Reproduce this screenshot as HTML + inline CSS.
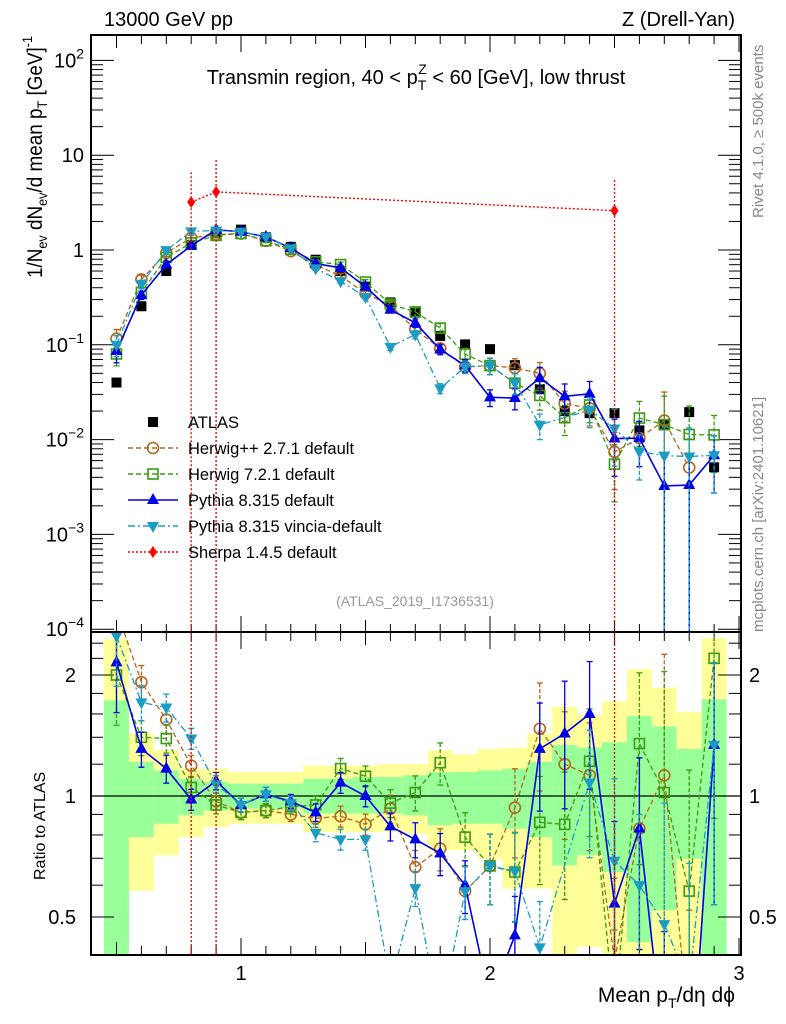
<!DOCTYPE html>
<html><head><meta charset="utf-8">
<style>
html,body{margin:0;padding:0;background:#fff;width:786px;height:1024px;overflow:hidden;}
svg{display:block;font-family:"Liberation Sans",Arial,sans-serif;}
</style></head>
<body>
<svg id="chart" width="786" height="1024" viewBox="0 0 786 1024" xmlns="http://www.w3.org/2000/svg">
<defs>
<clipPath id="clipMain"><rect x="91" y="35" width="650" height="597"/></clipPath>
<clipPath id="clipRatio"><rect x="91" y="632" width="650" height="323"/></clipPath>
</defs>
<g id="bands" clip-path="url(#clipRatio)"></g>
<g id="ticks"></g>
<line x1="91" x2="741" y1="796" y2="796" stroke="#000" stroke-width="1.3"/>
<g id="mainMarks" clip-path="url(#clipMain)"></g>
<g id="ratioMarks" clip-path="url(#clipRatio)"></g>
<rect x="91" y="35" width="650" height="597" fill="none" stroke="#000" stroke-width="2"/>
<rect x="91" y="632" width="650" height="323" fill="none" stroke="#000" stroke-width="2"/>
<g id="labels" font-size="20"></g>

<text x="104" y="26" font-size="20">13000 GeV pp</text>
<text x="735" y="26" font-size="20" text-anchor="end">Z (Drell-Yan)</text>
<text x="416" y="84" font-size="20" text-anchor="middle">Transmin region, 40 &lt; p<tspan font-size="14" dy="6">T</tspan><tspan font-size="14" dx="-8" dy="-16">Z</tspan><tspan dy="10"> &lt; 60 [GeV], low thrust</tspan></text>
<text x="415" y="606" font-size="14" fill="#999" text-anchor="middle">(ATLAS_2019_I1736531)</text>
<text transform="translate(42,278) rotate(-90)" font-size="21" textLength="242" lengthAdjust="spacingAndGlyphs">1/N<tspan font-size="14" dy="5">ev</tspan><tspan dy="-5"> dN</tspan><tspan font-size="14" dy="5">ev</tspan><tspan dy="-5">/d mean p</tspan><tspan font-size="14" dy="5">T</tspan><tspan dy="-5"> [GeV]</tspan><tspan font-size="14" dy="-10">-1</tspan></text>
<text transform="translate(45,880) rotate(-90)" font-size="16">Ratio to ATLAS</text>
<text x="735" y="1002" font-size="21" text-anchor="end">Mean p<tspan font-size="14" dy="6">T</tspan><tspan dy="-6">/dη dϕ</tspan></text>
<text transform="translate(763,218) rotate(-90)" font-size="15" fill="#888">Rivet 4.1.0, ≥ 500k events</text>
<text transform="translate(763,632) rotate(-90)" font-size="15" fill="#888">mcplots.cern.ch [arXiv:2401.10621]</text>
<g id="legend" font-size="16.5"></g>
</svg>
<script>
// ---- data ----
const xCenters = [0.5,0.6,0.7,0.8,0.9,1.0,1.1,1.2,1.3,1.4,1.5,1.6,1.7,1.8,1.9,2.0,2.1,2.2,2.3,2.4,2.5,2.6,2.7,2.8,2.9];
const atlasVals = [0.040,0.255,0.60,1.13,1.50,1.64,1.36,1.08,0.79,0.60,0.41,0.28,0.218,0.124,0.101,0.090,0.061,0.034,0.020,0.019,0.019,0.0125,0.0141,0.0195,0.0051];
const herwigPPRatio = [2.9,1.92,1.55,1.19,0.97,0.91,0.92,0.90,0.88,0.89,0.85,0.93,0.665,0.74,0.58,0.67,0.935,1.47,1.20,1.126,0.39,0.83,1.126,0.26,null];
const herwig7Ratio = [2.0,1.40,1.39,1.05,0.95,0.91,0.92,0.94,0.95,1.17,1.12,0.96,1.02,1.21,0.79,0.67,0.647,0.86,0.85,1.22,0.29,1.35,1.02,0.58,2.2];
const pythiaRatio = [2.15,1.31,1.17,0.98,1.09,0.95,1.01,0.97,0.91,1.08,1.0,0.84,0.78,0.72,0.60,0.31,0.45,1.31,1.43,1.60,0.54,0.83,0.23,0.17,1.34];
const vinciaRatio = [2.5,1.71,1.66,1.39,1.07,0.95,1.01,0.96,0.81,0.78,0.78,0.34,0.59,0.28,0.58,0.67,0.65,0.42,null,1.08,0.69,0.6,0.48,0.34,1.34];
const mcRelErr = [0.25,0.1,0.08,0.06,0.05,0.04,0.04,0.04,0.05,0.06,0.06,0.08,0.1,0.12,0.15,0.2,0.25,0.3,0.35,0.35,0.6,0.5,1.0,1.0,0.6];
const sherpaVals = [null,null,null,3.2,4.1,null,null,null,null,null,null,null,null,null,null,null,null,null,null,null,2.6,null,null,null,null];
const sherpaUp = [null,null,null,6.6,8.9,null,null,null,null,null,null,null,null,null,null,null,null,null,null,null,5.5,null,null,null,null];
const greenLo = [0.38,0.79,0.853,0.895,0.921,0.93,0.93,0.93,0.904,0.904,0.904,0.904,0.895,0.846,0.853,0.853,0.829,0.79,0.672,0.712,0.647,0.433,0.52,0.698,0.38];
const greenHi = [1.73,1.215,1.158,1.104,1.084,1.073,1.073,1.073,1.104,1.104,1.115,1.115,1.126,1.147,1.147,1.158,1.17,1.215,1.34,1.32,1.36,1.58,1.49,1.31,1.74];
const yellowLo = [0.38,0.582,0.712,0.79,0.837,0.853,0.853,0.853,0.814,0.814,0.814,0.814,0.806,0.733,0.733,0.698,0.588,0.588,0.38,0.421,0.38,0.38,0.38,0.38,0.38];
const yellowHi = [2.46,1.43,1.30,1.17,1.17,1.147,1.147,1.147,1.19,1.19,1.19,1.20,1.20,1.30,1.27,1.31,1.32,1.43,1.67,1.59,1.72,2.07,1.86,1.62,2.47];
const xTickLabels = [1,2,3];
const yMainTickExp = [-4,-3,-2,-1,0,1,2];
const yRatioTickLabels = [0.5,1,2];
const binWidth = 0.1;

// ---- axes ----
const X = v => 241 + (v - 1) * 249;
const YM = v => 250 - 94.8 * Math.log10(v);
const YR = r => 796 - 121 * Math.log2(r);
const NS = "http://www.w3.org/2000/svg";
function mk(tag, attrs, parent){ const e=document.createElementNS(NS,tag); for(const k in attrs) e.setAttribute(k,attrs[k]); parent.appendChild(e); return e; }
const clampR = y => Math.max(628, Math.min(958, y));

// bands
const bands = document.getElementById('bands');
xCenters.forEach((x,i)=>{
  const x0 = X(x-binWidth/2), x1 = Math.min(741, X(x+binWidth/2));
  const yt = clampR(YR(yellowHi[i])), yb = clampR(YR(yellowLo[i]));
  const y = mk('rect',{x:x0,y:yt,width:x1-x0,height:yb-yt,fill:'#ffff99'},bands);
  
  
  const gt = clampR(YR(greenHi[i])), gb = clampR(YR(greenLo[i]));
  const g = mk('rect',{x:x0,y:gt,width:x1-x0,height:gb-gt,fill:'#99ff99'},bands);
  
  
});

// ticks
const ticks = document.getElementById('ticks');
function tk(x1,y1,x2,y2){ mk('line',{x1,y1,x2,y2,stroke:'#000','stroke-width':1},ticks); }
for(let k=4;k<=30;k++){ const v=k/10, x=X(v); if(x<92||x>740) continue;
  const major = (k%5===0), L = (k%10===0)?16:(major?12:8);
  tk(x,36,x,36+L); tk(x,632,x,632-L); tk(x,633,x,633+L); tk(x,954,x,954-L);
}
for(let e=-4;e<=2;e++){ for(let m=1;m<10;m++){ const v=m*Math.pow(10,e), y=YM(v); if(y<36||y>631) continue;
  const L = m===1?22:11; tk(92,y,92+L,y); tk(740,y,740-L,y); } }
[0.4,0.5,0.6,0.7,0.8,0.9,1,1.2,1.4,1.6,1.8,2,2.2,2.4].forEach(r=>{ const y=YR(r); if(y<633||y>954) return;
  const L=(r===0.5||r===1||r===2)?22:11; tk(92,y,92+L,y); tk(740,y,740-L,y); });

// tick labels
const labels = document.getElementById('labels');
xTickLabels.forEach(v=>{ const t=mk('text',{x:X(v),y:980,'text-anchor':'middle'},labels); t.textContent=v;
  
   });
yMainTickExp.forEach(e=>{ const y=YM(Math.pow(10,e))+7; const t=mk('text',{x:84,y:y,'text-anchor':'end'},labels);
  
  
  if(e===0) t.textContent='1'; else if(e===1) t.textContent='10';
  else { t.textContent='10'; const s=mk('tspan',{'font-size':'14',dy:'-9'},t); s.textContent=String(e).replace('-','−'); }
});
yRatioTickLabels.forEach(r=>{ const y=YR(r)+7;
  const a=mk('text',{x:76,y:y,'text-anchor':'end'},labels); a.textContent=r;
  
  
  const b=mk('text',{x:749,y:y},labels); b.textContent=r;
  
   });

// markers
function marker(g,type,x,y,color){
  let e;
  if(type==='sq') e=mk('rect',{x:x-5,y:y-5,width:10,height:10,fill:color},g);
  else if(type==='osq') e=mk('rect',{x:x-5,y:y-5,width:10,height:10,fill:'none',stroke:color,'stroke-width':1.6},g);
  else if(type==='circ') e=mk('circle',{cx:x,cy:y,r:5.5,fill:'none',stroke:color,'stroke-width':1.6},g);
  else if(type==='up') e=mk('path',{d:`M${x},${y-7}L${x+6},${y+4}L${x-6},${y+4}Z`,fill:color},g);
  else if(type==='down') e=mk('path',{d:`M${x},${y+7}L${x+6},${y-4}L${x-6},${y-4}Z`,fill:color},g);
  else if(type==='dia') e=mk('path',{d:`M${x},${y-6}L${x+4},${y}L${x},${y+6}L${x-4},${y}Z`,fill:color},g);
  return e;
}
const series = [
  {name:'herwigpp',ratio:herwigPPRatio,color:'#b5651d',dash:'5,3',m:'circ'},
  {name:'herwig7',ratio:herwig7Ratio,color:'#3a9a12',dash:'5,3',m:'osq'},
  {name:'pythia',ratio:pythiaRatio,color:'#0000e6',dash:'',m:'up'},
  {name:'vincia',ratio:vinciaRatio,color:'#1b9cc4',dash:'7,3,2,3',m:'down'}
];
const mainG=document.getElementById('mainMarks'), ratioG=document.getElementById('ratioMarks');
function drawSeries(parent, vals, errs, Yf, s, floorY){
  const g=mk('g',{},parent);
  
  
  let pts=[];
  vals.forEach((v,i)=>{ if(v==null) return; pts.push([X(xCenters[i]),Yf(v)]); });
  mk('polyline',{points:pts.map(p=>p.join(',')).join(' '),fill:'none',stroke:s.color,'stroke-width':s.m==='up'?1.6:1.3,'stroke-dasharray':s.dash},g);
  vals.forEach((v,i)=>{ if(v==null) return; const x=X(xCenters[i]);
    const e=errs[i]; const lo = v*(1-e) > 0 ? Math.min(floorY,Yf(v*(1-e))) : floorY; const hi=Yf(v*(1+e));
    mk('line',{x1:x,x2:x,y1:hi,y2:lo,stroke:s.color,'stroke-width':1.3,'stroke-dasharray':s.dash?'4,2':''},g);
    mk('line',{x1:x-3,x2:x+3,y1:hi,y2:hi,stroke:s.color,'stroke-width':1.3},g);
    mk('line',{x1:x-3,x2:x+3,y1:lo,y2:lo,stroke:s.color,'stroke-width':1.3},g);
  });
  vals.forEach((v,i)=>{ if(v==null) return; marker(g,s.m,X(xCenters[i]),Yf(v),s.color); });
}
const dg=mk('g',{},mainG);


series.forEach(s=>{
  const mainVals = s.ratio.map((r,i)=> r==null?null: r*atlasVals[i]);
  drawSeries(mainG, mainVals, mcRelErr, YM, s, 636);
  drawSeries(ratioG, s.ratio, mcRelErr, YR, s, 958);
});
atlasVals.forEach((v,i)=>{ marker(dg,'sq',X(xCenters[i]),YM(v),'#000'); });
// Sherpa
['main','ratio'].forEach(which=>{
  const parent = which==='main'?mainG:ratioG;
  const g=mk('g',{},parent);
  
  
  const pts=[];
  sherpaVals.forEach((v,i)=>{ if(v==null) return; const x=X(xCenters[i]);
    const yv = which==='main'?YM(v):YR(v/atlasVals[i]);
    const yu = which==='main'?YM(sherpaUp[i]):YR(sherpaUp[i]/atlasVals[i]);
    pts.push([x,yv]);
    const bottom = which==='main'?636:958;
    mk('line',{x1:x,x2:x,y1:Math.max(yu, which==='main'?30:628),y2:bottom,stroke:'#ff0000','stroke-width':1.4,'stroke-dasharray':'2,2'},g);
  });
  mk('polyline',{points:pts.map(p=>p.join(',')).join(' '),fill:'none',stroke:'#ff0000','stroke-width':1.4,'stroke-dasharray':'2,2'},g);
  pts.forEach(p=>marker(g,'dia',p[0],p[1],'#ff0000'));
});

// legend
const lg=document.getElementById('legend');
const legendItems=[
  {t:'ATLAS',c:'#000',m:'sq',dash:null},
  {t:'Herwig++ 2.7.1 default',c:'#b5651d',m:'circ',dash:'5,3'},
  {t:'Herwig 7.2.1 default',c:'#3a9a12',m:'osq',dash:'5,3'},
  {t:'Pythia 8.315 default',c:'#0000e6',m:'up',dash:''},
  {t:'Pythia 8.315 vincia-default',c:'#1b9cc4',m:'down',dash:'7,3,2,3'},
  {t:'Sherpa 1.4.5 default',c:'#ff0000',m:'dia',dash:'2,2'}
];
legendItems.forEach((it,k)=>{
  const y=422+k*26;
  const g=mk('g',{},lg);
  
  
  if(it.dash!==null) mk('line',{x1:128,x2:178,y1:y,y2:y,stroke:it.c,'stroke-width':1.4,'stroke-dasharray':it.dash},g);
  marker(g,it.m,153,y,it.c);
  const t=mk('text',{x:188,y:y+6},g); t.textContent=it.t;
});
</script>
</body></html>
